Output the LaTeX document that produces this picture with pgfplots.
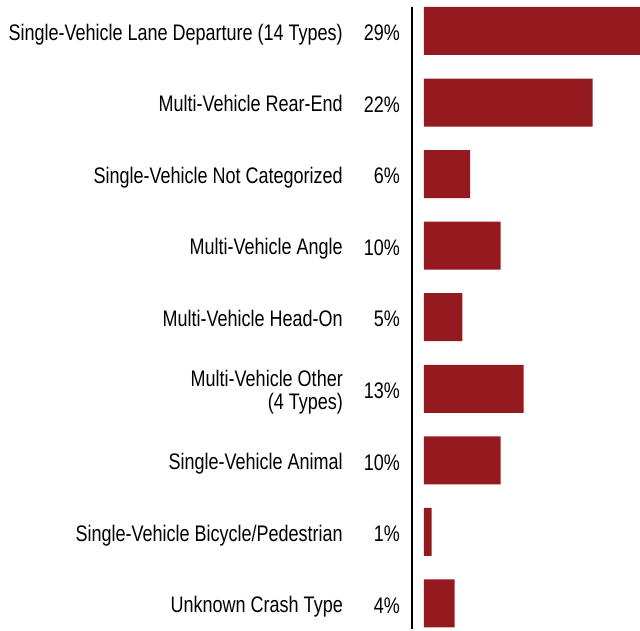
\documentclass[border=0pt]{standalone}
\usepackage{pgfplots}
\pgfplotsset{compat=1.18}
\usepackage{fontspec}
\setmainfont{Liberation Sans}[FakeStretch=0.80]
\definecolor{barred}{RGB}{149,26,31}
\newcommand{\lab}[2]{\begin{tabular}{@{}r@{}}#1\end{tabular}\makebox[57pt][r]{#2}}
\begin{document}
\begin{tikzpicture}
\begin{axis}[
  scale only axis,
  width=228pt, height=622pt,
  xmin=-1.565, xmax=28.16,
  ymin=-0.335, ymax=8.357,
  y dir=reverse,
  axis x line=none,
  axis y line=left,
  y axis line style={-, line width=2.6pt, black},
  ytick={0,1,2,3,4,5,6,7,8},
  major tick length=0pt,
  yticklabels={
    {\lab{Single-Vehicle Lane Departure (14 Types)}{29\%}},
    {\lab{Multi-Vehicle Rear-End}{22\%}},
    {\lab{Single-Vehicle Not Categorized}{6\%}},
    {\lab{Multi-Vehicle Angle}{10\%}},
    {\lab{Multi-Vehicle Head-On}{5\%}},
    {\lab{Multi-Vehicle Other\\(4 Types)}{13\%}},
    {\lab{Single-Vehicle Animal}{10\%}},
    {\lab{Single-Vehicle Bicycle/Pedestrian}{1\%}},
    {\lab{Unknown Crash Type}{4\%}}
  },
  yticklabel style={anchor=east, inner sep=0pt, xshift=-12pt, yshift=-4.5pt, font=\fontsize{22.5}{22.5}\selectfont},
  xbar, bar width=48pt, bar shift=0pt,
  clip=true,
]
\addplot[fill=barred, draw=none] coordinates {
  (29,0) (22,1) (6,2) (10,3) (5,4) (13,5) (10,6) (1,7) (4,8)
};
\end{axis}
\path ([xshift=-640pt]current axis.south east) rectangle ([yshift=7pt]current axis.north east);
\end{tikzpicture}
\end{document}
